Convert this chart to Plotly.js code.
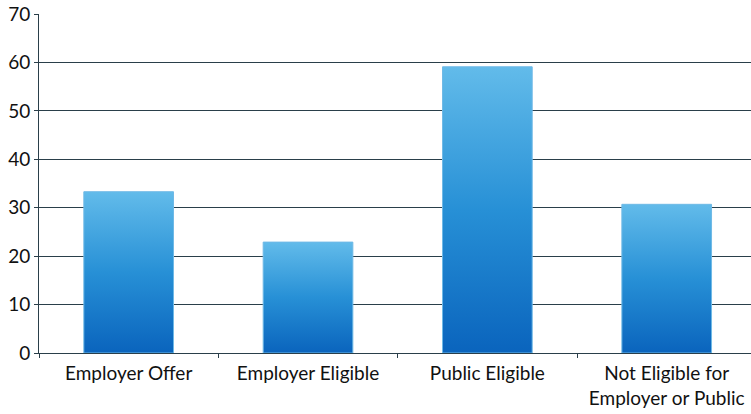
<!DOCTYPE html>
<html>
<head>
<meta charset="utf-8">
<script src="https://cdn.plot.ly/plotly-3.0.1.min.js"></script>
<style>html,body{margin:0;padding:0;background:#fff;}#chart{width:751px;height:414px;}</style>
</head>
<body>
<div id="chart"></div>
<script>
var categories = ["Employer Offer", "Employer Eligible", "Public Eligible", "Not Eligible for<br>Employer or Public"];
var values = [33.3, 22.9, 59.1, 30.7];
var yTicks = [0, 10, 20, 30, 40, 50, 60, 70];

var trace = {
  type: "bar",
  x: categories,
  y: values,
  width: 0.5,
  marker: {color: "#2b8fd3", line: {color: "#6fb9e6", width: 1}},
  hoverinfo: "none"
};

var layout = {
  width: 751, height: 414,
  margin: {l: 39, r: 0, t: 14, b: 61},
  paper_bgcolor: "#ffffff",
  plot_bgcolor: "#ffffff",
  showlegend: false,
  font: {family: "Lato, 'Open Sans', sans-serif", size: 19, color: "#111111"},
  xaxis: {
    type: "category",
    range: [-0.5, 3.47],
    tickson: "boundaries",
    ticks: "outside",
    ticklen: 4,
    tickcolor: "#2a3f4a",
    showline: true,
    linecolor: "#2a3f4a",
    linewidth: 1,
    showgrid: false,
    ticklabelstandoff: 3,
    tickfont: {size: 19, color: "#111111"},
    fixedrange: true
  },
  yaxis: {
    range: [0, 70],
    tickvals: yTicks,
    ticktext: yTicks.map(String),
    ticks: "outside",
    ticklen: 4,
    tickcolor: "#2a3f4a",
    showline: true,
    linecolor: "#2a3f4a",
    linewidth: 1,
    showgrid: true,
    gridcolor: "#2a3f4a",
    gridwidth: 1,
    zeroline: false,
    tickfont: {size: 19, color: "#111111"},
    fixedrange: true
  }
};

Plotly.newPlot("chart", [trace], layout, {staticPlot: true, displayModeBar: false}).then(function (gd) {
  // apply vertical gradient to bar fills
  var svg = gd.querySelector(".main-svg");
  var ns = "http://www.w3.org/2000/svg";
  var defs = svg.querySelector("defs") || svg.insertBefore(document.createElementNS(ns, "defs"), svg.firstChild);
  var grad = document.createElementNS(ns, "linearGradient");
  grad.setAttribute("id", "barGrad");
  grad.setAttribute("x1", "0"); grad.setAttribute("y1", "0");
  grad.setAttribute("x2", "0"); grad.setAttribute("y2", "1");
  [["0", "#62bbea"], ["0.5", "#2790d6"], ["1", "#0a64bd"]].forEach(function (s) {
    var st = document.createElementNS(ns, "stop");
    st.setAttribute("offset", s[0]);
    st.setAttribute("stop-color", s[1]);
    grad.appendChild(st);
  });
  defs.appendChild(grad);
  gd.querySelectorAll(".bars .point path").forEach(function (p) {
    p.style.fill = "url(#barGrad)";
  });
});
</script>
</body>
</html>
